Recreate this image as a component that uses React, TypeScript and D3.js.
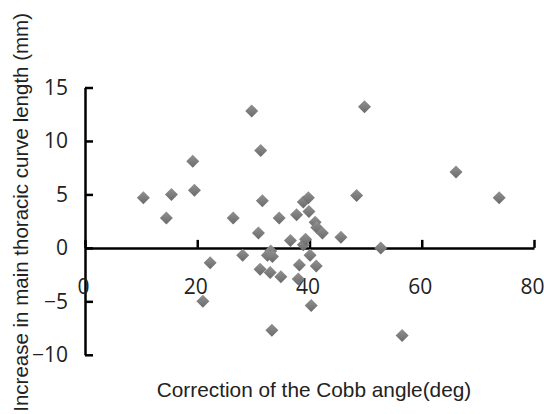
import React, { useEffect, useRef } from "react";
import * as d3 from "d3";

// Correction of the Cobb angle (deg)
const correction = [
  10.4, 14.5, 15.4, 19.2, 19.5, 22.3, 21.0, 26.4, 28.1, 29.7, 31.3, 31.6, 30.9,
  31.2, 33.1, 32.5, 33.4, 33.0, 33.3, 34.6, 34.9, 36.6, 37.7, 38.0, 38.2, 38.9,
  39.8, 39.9, 38.9, 39.3, 40.1, 41.2, 40.3, 41.0, 41.3, 42.3, 45.6, 48.4, 49.8,
  52.7, 56.5, 66.1, 73.8,
];
// Increase in main thoracic curve length (mm)
const increase = [
  4.7, 2.8, 5.0, 8.1, 5.4, -1.4, -5.0, 2.8, -0.7, 12.8, 9.1, 4.4, 1.4, -2.0,
  -0.3, -0.7, -0.8, -2.3, -7.7, 2.8, -2.7, 0.7, 3.1, -2.9, -1.6, 4.3, 4.7, 3.4,
  0.3, 0.8, -0.7, -1.7, -5.4, 2.4, 1.9, 1.4, 1.0, 4.9, 13.2, 0.0, -8.2, 7.1, 4.7,
];
const xTicks = [0, 20, 40, 60, 80];
const yTicks = [-10, -5, 0, 5, 10, 15];

const xTitle = "Correction of the Cobb angle(deg)";
const yTitle = "Increase in main thoracic curve length (mm)";

export default function App() {
  const ref = useRef<SVGSVGElement>(null);

  useEffect(() => {
    const svg = d3.select(ref.current);
    svg.selectAll("*").remove();

    const x = d3.scaleLinear().domain([0, 80]).range([85, 534]);
    const y = d3.scaleLinear().domain([-10, 15]).range([354.8, 87.5]);

    const defs = svg.append("defs");
    const grad = defs
      .append("linearGradient")
      .attr("id", "mk")
      .attr("x1", 0)
      .attr("y1", 0)
      .attr("x2", 0)
      .attr("y2", 1);
    grad.append("stop").attr("offset", "0%").attr("stop-color", "#929292");
    grad.append("stop").attr("offset", "100%").attr("stop-color", "#6a6a6a");

    // y axis, ticks pointing inward
    const gy = svg
      .append("g")
      .attr("transform", `translate(${x(0)},0)`)
      .call(
        d3
          .axisLeft(y)
          .tickValues(yTicks)
          .tickSizeInner(-8)
          .tickSizeOuter(0)
          .tickPadding(17)
      );

    // x axis crossing at y = 0, ticks pointing up
    const gx = svg
      .append("g")
      .attr("transform", `translate(0,${y(0)})`)
      .call(
        d3
          .axisBottom(x)
          .tickValues(xTicks)
          .tickSizeInner(-8)
          .tickSizeOuter(0)
          .tickPadding(31)
      );

    [gx, gy].forEach((g) => {
      g.attr("font-family", "'Open Sans', sans-serif").attr("font-size", 21);
      g.selectAll("path, line").attr("stroke", "#000").attr("stroke-width", 2.5);
      g.selectAll("text").attr("fill", "#222");
    });
    gx.selectAll("text").attr("dx", -2);

    // points
    svg
      .append("g")
      .selectAll("path")
      .data(correction.map((c, i) => [c, increase[i]]))
      .enter()
      .append("path")
      .attr("d", "M0,-6.5L6.5,0L0,6.5L-6.5,0Z")
      .attr("transform", (d) => `translate(${x(d[0])},${y(d[1])})`)
      .attr("fill", "url(#mk)");

    svg
      .append("text")
      .attr("x", 314)
      .attr("y", 397)
      .attr("text-anchor", "middle")
      .attr("font-family", "'Liberation Sans', Arial, sans-serif")
      .attr("font-size", 20.8)
      .attr("fill", "#222")
      .text(xTitle);

    svg
      .append("text")
      .attr("transform", "translate(28,13) rotate(-90)")
      .attr("text-anchor", "end")
      .attr("font-family", "'Liberation Sans', Arial, sans-serif")
      .attr("font-size", 20.5)
      .attr("fill", "#222")
      .text(yTitle);
  }, []);

  return (
    <svg
      ref={ref}
      width={544}
      height={414}
      style={{ position: "absolute", left: 0, top: 0, background: "#fff" }}
    />
  );
}
